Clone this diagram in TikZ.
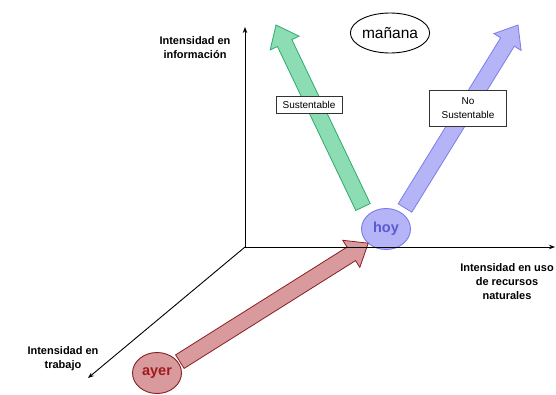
\documentclass[tikz,border=0pt]{standalone}
\usepackage{fontspec}
\setmainfont{Liberation Sans}
\usetikzlibrary{calc,arrows.meta,shapes.geometric}

\definecolor{verdeF}{HTML}{8CDCB4}
\definecolor{verdeB}{HTML}{2EAA6A}
\definecolor{azulF}{HTML}{B4B4F6}
\definecolor{azulB}{HTML}{7C7CEC}
\definecolor{rojoF}{HTML}{D89A9C}
\definecolor{rojoB}{HTML}{8A1E22}
\definecolor{rojoT}{HTML}{A01A1E}
\definecolor{azulT}{HTML}{5A5AD2}

% fat arrow: #1 = tail, #2 = tip, #3 = colours
\newcommand{\flechagorda}[3]{%
  \coordinate (fb) at ($(#2)!20pt!(#1)$);
  \filldraw[#3] ($(#1)!8pt!90:(#2)$) -- ($(fb)!8pt!-90:(#1)$) -- ($(fb)!16pt!-90:(#1)$)
    -- (#2) -- ($(fb)!16pt!90:(#1)$) -- ($(fb)!8pt!90:(#1)$) -- ($(#1)!8pt!-90:(#2)$) -- cycle;
}

\begin{document}
\begin{tikzpicture}[x=1pt,y=-1pt,
  eje/.style={line width=0.9pt,-{Stealth[length=6pt,width=4.5pt]}},
  rotulo/.style={font=\fontsize{11}{14}\selectfont\bfseries,align=center},
  caja/.style={draw=black!80,line width=0.7pt,fill=white,inner sep=1pt,
    font=\fontsize{10}{14}\selectfont,align=center},
  tiempo/.style={ellipse,inner sep=0pt,line width=0.9pt}]

\useasboundingbox (0,0) rectangle (556,394);

%--- Time nodes ---
\node[tiempo,draw=rojoB,fill=rojoF,text=rojoT,minimum width=49pt,minimum height=41pt,
  font=\fontsize{14.5}{16}\selectfont\bfseries] (ayer) at (157,373) {ayer};
\node[tiempo,draw=azulB,fill=azulF,text=azulT,minimum width=49pt,minimum height=41pt,
  font=\fontsize{14.5}{16}\selectfont\bfseries] (hoy) at (386,229) {hoy};
\node[tiempo,draw=black,minimum width=65pt,minimum height=40pt,
  font=\fontsize{15.5}{17}\selectfont] (manana) at (390,33) {mañana};

%--- Fat arrows ---
\coordinate (rojoA) at ($(ayer)!27pt!(hoy)+(0,3)$);
\coordinate (rojoB) at ($(hoy)!21pt!(ayer)+(0,3)$);
\coordinate (verdeA) at ($(hoy)+(-23,-22)$);
\coordinate (verde) at (276,25);
\coordinate (azulA) at ($(hoy)+(19,-21)$);
\coordinate (azul) at (518,25);

\flechagorda{rojoA}{rojoB}{fill=rojoF,draw=rojoB,line width=0.8pt}
\flechagorda{verdeA}{verde}{fill=verdeF,draw=verdeB,line width=0.8pt}
\flechagorda{azulA}{azul}{fill=azulF,draw=azulB,line width=0.8pt}

%--- Axes ---
\coordinate (O) at (245,247);
\coordinate (ejeY) at (245,27);
\coordinate (ejeX) at (555,247);
\coordinate (ejeZ) at (88,378);
\draw[eje] (O) -- (ejeY);
\draw[eje] (O) -- (ejeX);
\draw[eje] (O) -- (ejeZ);

% Axis labels
\node[rotulo] (infoLbl) at (195,48) {Intensidad en\\información};
\node[rotulo] (usoLbl) at (507,282) {Intensidad en uso\\de recursos\\naturales};
\node[rotulo] (trabLbl) at (63,359) {Intensidad en\\trabajo};

%--- Boxes ---
\node[caja,minimum width=66pt,minimum height=17pt] (sust) at (309,105) {Sustentable};
\node[caja,minimum width=77pt,minimum height=36pt] (nosust) at (468,108) {No\\Sustentable};

\end{tikzpicture}
\end{document}
